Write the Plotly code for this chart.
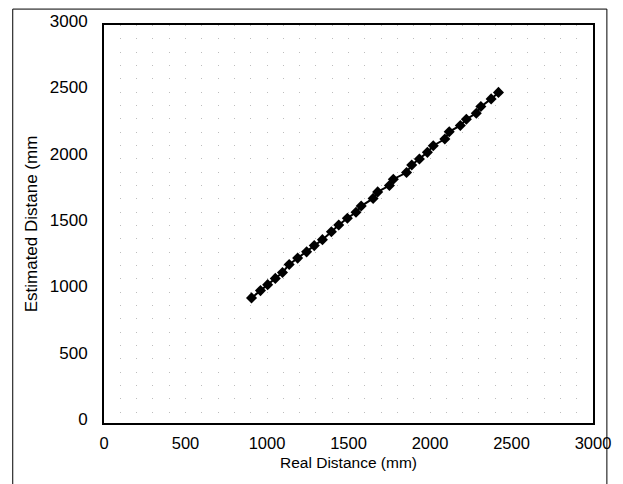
import plotly.graph_objects as go

real_distance = [905, 960, 1004, 1051, 1095, 1136, 1188, 1243, 1290, 1340, 1395, 1440,
                 1493, 1546, 1578, 1651, 1679, 1751, 1775, 1856, 1888, 1935, 1984, 2020,
                 2091, 2118, 2186, 2223, 2284, 2312, 2375, 2420]
estimated_distance = [943, 998, 1043, 1090, 1135, 1195, 1243, 1290, 1337, 1382, 1442, 1493,
                      1543, 1588, 1635, 1693, 1742, 1790, 1838, 1888, 1945, 1990, 2040, 2090,
                      2140, 2195, 2243, 2290, 2335, 2385, 2443, 2492]
tick_vals = [0, 500, 1000, 1500, 2000, 2500, 3000]
tick_text = ["0", "500", "1000", "1500", "2000", "2500", "3000"]

fig = go.Figure()
fig.add_trace(go.Scatter(
    x=real_distance, y=estimated_distance, mode="lines+markers",
    line=dict(color="black", width=2),
    marker=dict(symbol="diamond", size=8.5, color="black"),
    showlegend=False,
))

font = "Liberation Sans, Arial, sans-serif"
grid_dash = "1px,12.33px"
grid_color = "#bdbdbd"
fig.update_layout(
    width=623, height=484,
    margin=dict(l=104, r=26, t=23, b=61),
    paper_bgcolor="white", plot_bgcolor="white",
    font=dict(family=font, size=16, color="black"),
    xaxis=dict(
        range=[0, 3000], tickvals=tick_vals, ticktext=tick_text,
        showline=True, linecolor="black", linewidth=2, mirror=True,
        ticks="outside", ticklen=4, tickcolor="rgba(0,0,0,0)",
        showgrid=True, gridcolor=grid_color, gridwidth=1, griddash=grid_dash,
        minor=dict(dtick=100, showgrid=True, gridcolor=grid_color, gridwidth=1,
                   griddash=grid_dash, ticks=""),
        zeroline=False,
        title=dict(text="Real Distance (mm)", standoff=6, font=dict(size=15.5)),
        tickfont=dict(size=16.5),
    ),
    yaxis=dict(
        range=[0, 3000], tickvals=tick_vals, ticktext=tick_text,
        showline=True, linecolor="black", linewidth=2, mirror=True,
        ticks="outside", ticklen=11, tickcolor="rgba(0,0,0,0)",
        showgrid=False, zeroline=False,
        ticklabelshift=-4,
        title=dict(text="Estimated Distane (mm", standoff=8, font=dict(size=17)),
        tickfont=dict(size=17),
    ),
    shapes=[dict(
        type="rect", xref="paper", yref="paper",
        x0=(12 - 104) / 493, x1=(611 - 104) / 493,
        y0=-0.2, y1=(423 - 7) / 400,
        line=dict(color="black", width=1), layer="below",
    )],
)

fig.write_html("out.html", config={"displayModeBar": False},
               post_script="document.body.style.margin='0';")
